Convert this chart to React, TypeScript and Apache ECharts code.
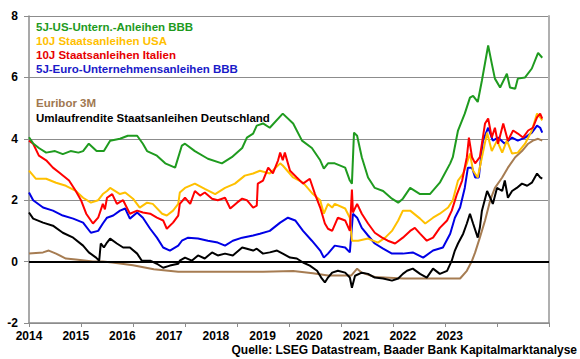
import React, { useEffect, useRef } from "react";
import * as echarts from "echarts";

// [decimal year, yield in %]
const usBBB: [number, number][] = [[2014.0,4.05],[2014.08,3.85],[2014.19,3.7],[2014.33,3.55],[2014.5,3.6],[2014.65,3.5],[2014.8,3.6],[2014.95,3.55],[2015.04,3.6],[2015.15,3.84],[2015.3,3.6],[2015.44,3.6],[2015.56,3.94],[2015.75,4.0],[2015.9,4.1],[2016.08,4.1],[2016.19,3.84],[2016.27,3.6],[2016.46,3.45],[2016.62,3.2],[2016.81,3.06],[2016.94,3.78],[2017.0,3.84],[2017.19,3.6],[2017.44,3.35],[2017.71,3.2],[2017.9,3.4],[2018.1,3.7],[2018.19,4.04],[2018.31,4.17],[2018.38,4.43],[2018.5,4.5],[2018.63,4.36],[2018.88,4.82],[2019.08,4.5],[2019.25,3.94],[2019.44,3.7],[2019.6,3.3],[2019.67,3.03],[2019.75,3.2],[2019.88,3.2],[2020.08,3.06],[2020.17,2.64],[2020.21,2.54],[2020.25,4.2],[2020.31,4.1],[2020.4,3.4],[2020.52,2.74],[2020.65,2.4],[2020.81,2.3],[2020.98,2.05],[2021.1,1.92],[2021.19,2.05],[2021.33,2.4],[2021.52,2.2],[2021.71,2.2],[2021.9,2.57],[2022.1,3.2],[2022.15,3.4],[2022.25,4.27],[2022.38,4.82],[2022.48,5.34],[2022.54,5.4],[2022.63,5.2],[2022.71,5.9],[2022.83,7.04],[2022.9,6.45],[2022.96,5.96],[2023.06,5.67],[2023.19,6.12],[2023.25,5.67],[2023.35,5.63],[2023.4,5.96],[2023.54,6.0],[2023.67,6.29],[2023.79,6.8],[2023.87,6.64]];

const us10: [number, number][] = [[2014.0,2.96],[2014.13,2.7],[2014.33,2.7],[2014.52,2.57],[2014.71,2.47],[2014.9,2.3],[2015.04,2.08],[2015.19,1.92],[2015.33,2.0],[2015.42,2.2],[2015.5,2.3],[2015.56,2.4],[2015.75,2.2],[2015.85,2.25],[2016.0,2.05],[2016.13,1.76],[2016.27,1.92],[2016.38,1.88],[2016.56,1.56],[2016.65,1.5],[2016.77,1.66],[2016.87,1.88],[2016.9,2.25],[2017.0,2.4],[2017.19,2.54],[2017.38,2.37],[2017.58,2.2],[2017.77,2.4],[2017.96,2.54],[2018.15,2.8],[2018.31,2.87],[2018.44,2.96],[2018.63,2.87],[2018.83,3.2],[2018.88,3.13],[2019.08,2.74],[2019.27,2.57],[2019.46,2.2],[2019.6,2.0],[2019.67,1.56],[2019.75,1.88],[2019.83,1.76],[2019.88,1.88],[2020.08,1.73],[2020.17,1.43],[2020.21,0.68],[2020.33,0.68],[2020.52,0.75],[2020.71,0.62],[2020.85,0.78],[2020.98,1.0],[2021.1,1.34],[2021.19,1.66],[2021.33,1.66],[2021.52,1.4],[2021.62,1.24],[2021.77,1.43],[2021.9,1.56],[2022.06,1.76],[2022.15,2.0],[2022.25,2.64],[2022.35,2.87],[2022.42,3.2],[2022.48,3.52],[2022.54,2.96],[2022.63,2.74],[2022.71,3.4],[2022.81,4.2],[2022.9,3.6],[2023.0,3.94],[2023.1,3.55],[2023.19,3.94],[2023.29,3.52],[2023.4,3.55],[2023.54,3.84],[2023.67,4.27],[2023.77,4.82],[2023.83,4.7],[2023.87,4.6]];

const italy10: [number, number][] = [[2014.0,3.94],[2014.08,3.84],[2014.19,3.45],[2014.33,3.3],[2014.46,3.06],[2014.58,2.9],[2014.77,2.64],[2014.9,2.3],[2015.0,2.0],[2015.1,1.56],[2015.23,1.24],[2015.33,1.43],[2015.42,1.88],[2015.46,1.7],[2015.5,2.08],[2015.6,2.2],[2015.69,1.88],[2015.81,2.0],[2015.94,1.56],[2016.08,1.66],[2016.19,1.6],[2016.33,1.56],[2016.46,1.43],[2016.58,1.34],[2016.65,1.07],[2016.77,1.27],[2016.87,1.5],[2016.9,1.88],[2017.0,2.08],[2017.1,1.88],[2017.19,2.3],[2017.29,2.15],[2017.38,2.25],[2017.52,2.05],[2017.63,2.0],[2017.77,2.08],[2017.87,1.73],[2018.0,1.92],[2018.1,2.05],[2018.19,2.0],[2018.31,1.76],[2018.38,1.82],[2018.4,2.54],[2018.5,2.64],[2018.6,3.06],[2018.69,2.87],[2018.79,3.3],[2018.83,3.55],[2018.88,3.3],[2018.92,3.55],[2019.02,2.96],[2019.15,2.74],[2019.27,2.54],[2019.4,2.7],[2019.5,2.2],[2019.6,1.76],[2019.69,1.24],[2019.75,1.07],[2019.83,1.0],[2019.94,1.43],[2020.08,1.34],[2020.17,1.0],[2020.21,2.35],[2020.23,1.6],[2020.31,1.88],[2020.4,1.56],[2020.52,1.24],[2020.65,0.94],[2020.79,0.78],[2020.9,0.68],[2021.04,0.59],[2021.19,0.78],[2021.33,1.0],[2021.42,1.1],[2021.52,0.91],[2021.65,0.68],[2021.77,0.78],[2021.9,1.1],[2022.04,1.34],[2022.13,1.66],[2022.23,2.2],[2022.33,2.64],[2022.42,3.4],[2022.46,4.04],[2022.52,3.4],[2022.58,3.2],[2022.67,3.4],[2022.77,4.5],[2022.83,4.66],[2022.9,4.04],[2022.96,4.36],[2023.02,3.84],[2023.12,4.5],[2023.21,3.94],[2023.31,4.27],[2023.4,4.17],[2023.5,4.04],[2023.6,4.27],[2023.69,4.36],[2023.77,4.7],[2023.83,4.82],[2023.87,4.66]];

const euroBBB: [number, number][] = [[2014.0,2.25],[2014.08,2.0],[2014.27,1.76],[2014.46,1.66],[2014.65,1.5],[2014.85,1.4],[2015.04,1.27],[2015.19,0.94],[2015.33,1.0],[2015.42,1.24],[2015.5,1.43],[2015.62,1.5],[2015.75,1.66],[2015.85,1.73],[2015.94,1.4],[2016.08,1.6],[2016.19,1.43],[2016.33,1.07],[2016.46,0.78],[2016.58,0.46],[2016.71,0.36],[2016.87,0.52],[2016.94,0.68],[2017.06,0.78],[2017.25,0.75],[2017.44,0.68],[2017.63,0.62],[2017.77,0.52],[2017.92,0.68],[2018.1,0.78],[2018.31,0.85],[2018.44,0.91],[2018.63,1.0],[2018.83,1.27],[2018.98,1.43],[2019.12,1.34],[2019.27,1.0],[2019.44,0.68],[2019.6,0.36],[2019.67,0.13],[2019.75,0.26],[2019.88,0.52],[2020.08,0.46],[2020.17,0.3],[2020.23,1.56],[2020.31,1.43],[2020.4,1.1],[2020.52,0.85],[2020.65,0.59],[2020.81,0.42],[2020.98,0.26],[2021.19,0.26],[2021.38,0.3],[2021.58,0.13],[2021.77,0.36],[2021.96,0.46],[2022.1,0.91],[2022.19,1.43],[2022.29,1.76],[2022.38,2.4],[2022.44,3.06],[2022.52,3.06],[2022.58,2.74],[2022.65,2.74],[2022.73,3.94],[2022.83,4.36],[2022.92,3.94],[2023.02,4.04],[2023.15,3.84],[2023.29,4.04],[2023.4,3.94],[2023.54,4.04],[2023.67,4.2],[2023.77,4.43],[2023.83,4.36],[2023.87,4.2]];

const bund: [number, number][] = [[2014.0,1.6],[2014.08,1.4],[2014.27,1.27],[2014.46,1.17],[2014.65,0.94],[2014.85,0.78],[2015.04,0.52],[2015.15,0.3],[2015.29,0.13],[2015.35,0.03],[2015.38,0.59],[2015.44,0.46],[2015.5,0.62],[2015.56,0.75],[2015.69,0.59],[2015.81,0.46],[2015.94,0.46],[2016.08,0.26],[2016.17,0.03],[2016.33,0.03],[2016.46,-0.07],[2016.58,-0.2],[2016.71,-0.13],[2016.87,-0.07],[2016.9,0.03],[2017.0,0.13],[2017.13,0.03],[2017.25,0.2],[2017.38,0.1],[2017.52,0.3],[2017.63,0.2],[2017.77,0.26],[2017.92,0.2],[2018.1,0.46],[2018.19,0.42],[2018.31,0.36],[2018.38,0.42],[2018.5,0.26],[2018.63,0.3],[2018.77,0.36],[2018.88,0.26],[2019.02,0.13],[2019.15,0.1],[2019.27,-0.03],[2019.4,-0.13],[2019.54,-0.3],[2019.63,-0.55],[2019.69,-0.68],[2019.75,-0.52],[2019.83,-0.36],[2019.94,-0.3],[2020.08,-0.36],[2020.17,-0.52],[2020.21,-0.85],[2020.27,-0.46],[2020.4,-0.36],[2020.52,-0.4],[2020.65,-0.52],[2020.81,-0.55],[2020.98,-0.62],[2021.1,-0.55],[2021.19,-0.4],[2021.27,-0.3],[2021.38,-0.23],[2021.52,-0.4],[2021.65,-0.52],[2021.77,-0.23],[2021.9,-0.4],[2022.04,-0.3],[2022.13,0.03],[2022.19,0.36],[2022.25,0.59],[2022.35,0.91],[2022.42,1.24],[2022.48,1.56],[2022.54,1.24],[2022.63,0.78],[2022.67,1.1],[2022.71,1.66],[2022.81,2.3],[2022.87,2.08],[2022.92,1.88],[2023.0,2.4],[2023.1,2.3],[2023.15,2.64],[2023.21,2.08],[2023.29,2.3],[2023.38,2.4],[2023.48,2.54],[2023.58,2.47],[2023.67,2.57],[2023.77,2.87],[2023.83,2.74],[2023.87,2.7]];

const euribor: [number, number][] = [[2014.0,0.26],[2014.27,0.3],[2014.38,0.36],[2014.52,0.26],[2014.71,0.1],[2014.9,0.07],[2015.23,0.0],[2015.42,0.0],[2015.6,-0.03],[2016.0,-0.12],[2016.4,-0.25],[2016.87,-0.33],[2017.5,-0.33],[2018.0,-0.33],[2018.5,-0.33],[2019.08,-0.31],[2019.46,-0.38],[2019.75,-0.45],[2020.2,-0.45],[2020.31,-0.23],[2020.4,-0.36],[2020.65,-0.5],[2021.2,-0.55],[2022.0,-0.55],[2022.29,-0.55],[2022.42,-0.3],[2022.52,0.03],[2022.58,0.3],[2022.67,0.78],[2022.77,1.34],[2022.87,2.0],[2022.96,2.4],[2023.1,2.74],[2023.21,3.06],[2023.35,3.4],[2023.48,3.6],[2023.6,3.84],[2023.69,3.94],[2023.79,4.0],[2023.87,3.94]];

const yearLabels = ["2014","2015","2016","2017","2018","2019","2020","2021","2022","2023"];
const yTicks = { min: -2, max: 8, interval: 2 };

const legendTop = [
  { text: "5J-US-Untern.-Anleihen BBB", color: "#1e9a1e" },
  { text: "10J Staatsanleihen USA", color: "#ffc000" },
  { text: "10J Staatsanleihen Italien", color: "#e60000" },
  { text: "5J-Euro-Unternehmensanleihen BBB", color: "#1a1ac8" },
];
const legendBottom = [
  { text: "Euribor 3M", color: "#a07850" },
  { text: "Umlaufrendite Staatsanleihen Deutschland", color: "#000000" },
];
const source = "Quelle: LSEG Datastream, Baader Bank Kapitalmarktanalyse";

const FONT = '"Liberation Sans", Arial, sans-serif';

export default function App() {
  const ref = useRef<HTMLDivElement>(null);
  useEffect(() => {
    if (!ref.current) return;
    const chart = echarts.init(ref.current, null, { renderer: "svg" });
    const line = (name: string, data: [number, number][], color: string, extra: any = {}) => ({
      name,
      type: "line",
      data,
      showSymbol: false,
      symbol: "none",
      lineStyle: { color, width: 2 },
      itemStyle: { color },
      xAxisIndex: 0,
      yAxisIndex: 0,
      ...extra,
    });
    const legendY = [27, 41, 55, 69];
    const graphic: any[] = [];
    legendTop.forEach((l, i) =>
      graphic.push({
        type: "text",
        x: 36,
        y: legendY[i],
        style: { text: l.text, fill: l.color, font: `bold 11.5px ${FONT}`, align: "left", verticalAlign: "middle" },
      })
    );
    const lbY = [103, 118];
    legendBottom.forEach((l, i) =>
      graphic.push({
        type: "text",
        x: 36,
        y: lbY[i],
        style: { text: l.text, fill: l.color, font: `bold 11.5px ${FONT}`, align: "left", verticalAlign: "middle" },
      })
    );
    graphic.push({
      type: "text",
      x: 577,
      y: 350,
      style: { text: source, fill: "#000", font: `bold 12px ${FONT}`, align: "right", verticalAlign: "middle" },
    });

    chart.setOption({
      animation: false,
      backgroundColor: "#ffffff",
      grid: { left: 29, right: 31, top: 16, bottom: 36, containLabel: false },
      xAxis: [
        {
          type: "value",
          min: 2014,
          max: 2024,
          interval: 1,
          position: "bottom",
          axisLine: { show: true, onZero: false, lineStyle: { color: "#8c8c8c", width: 1.5 } },
          axisTick: { show: true, length: 4, lineStyle: { color: "#8c8c8c" } },
          axisLabel: { show: false },
          splitLine: { show: false },
        },
        {
          type: "value",
          min: 0,
          max: 11.13,
          interval: 1,
          position: "bottom",
          axisLine: { show: false, onZero: false },
          axisTick: { show: false },
          splitLine: { show: false },
          axisLabel: {
            show: true,
            margin: 7,
            color: "#000",
            fontWeight: "bold",
            fontSize: 12,
            fontFamily: FONT,
            showMaxLabel: false,
            formatter: (v: number) => (yearLabels[Math.round(v)] !== undefined && Math.abs(v - Math.round(v)) < 1e-6 ? yearLabels[Math.round(v)] : ""),
          },
        },
      ],
      yAxis: [
        {
          type: "value",
          min: yTicks.min,
          max: yTicks.max,
          interval: yTicks.interval,
          axisLine: { show: true, onZero: false, lineStyle: { color: "#8c8c8c", width: 1.5 } },
          axisTick: { show: true, length: 5, lineStyle: { color: "#8c8c8c" } },
          axisLabel: { margin: 11, color: "#000", fontWeight: "bold", fontSize: 12, fontFamily: FONT },
          splitLine: { show: true, lineStyle: { color: "#8c8c8c", width: 1 } },
        },
        {
          type: "value",
          position: "right",
          min: yTicks.min,
          max: yTicks.max,
          interval: yTicks.interval,
          axisLine: { show: true, onZero: false, lineStyle: { color: "#b0b0b0", width: 2 } },
          axisTick: { show: false },
          axisLabel: { show: false },
          splitLine: { show: false },
        },
      ],
      graphic,
      series: [
        line("Euribor 3M", euribor, "#a67c52", {
          markLine: {
            silent: true,
            symbol: "none",
            label: { show: false },
            lineStyle: { color: "#000", width: 2, type: "solid" },
            data: [{ yAxis: 0 }],
          },
        }),
        line("Umlaufrendite Staatsanleihen Deutschland", bund, "#000000"),
        line("5J-Euro-Unternehmensanleihen BBB", euroBBB, "#0000e6"),
        line("10J Staatsanleihen USA", us10, "#ffc000"),
        line("10J Staatsanleihen Italien", italy10, "#ff0000"),
        line("5J-US-Untern.-Anleihen BBB", usBBB, "#1f9b1f"),
      ],
    });
    return () => chart.dispose();
  }, []);
  return <div ref={ref} style={{ position: "fixed", left: 0, top: 0, width: 580, height: 359 }} />;
}
